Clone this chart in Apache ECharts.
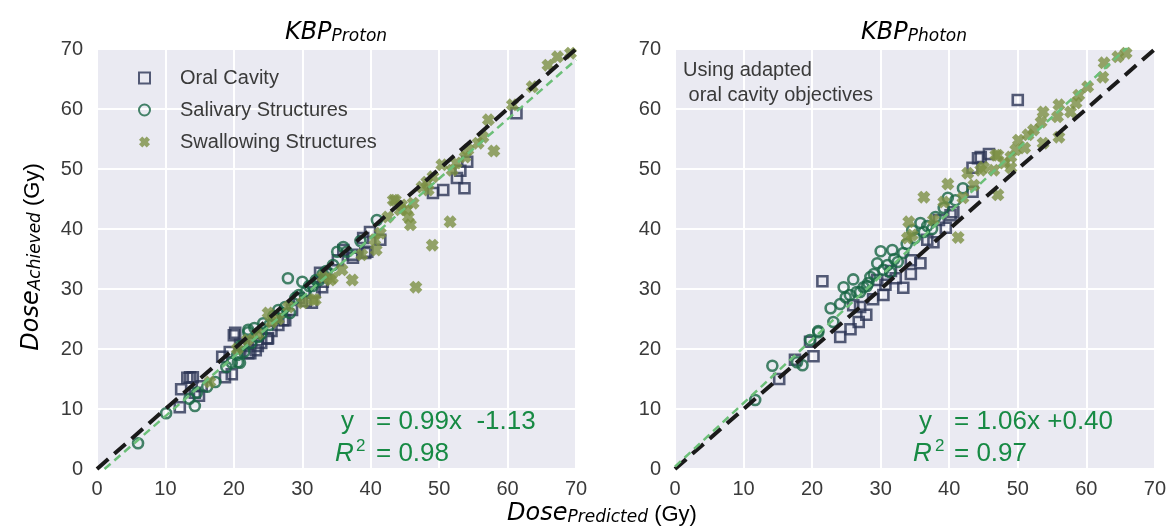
<!DOCTYPE html>
<html>
<head>
<meta charset="utf-8">
<script src="https://cdn.jsdelivr.net/npm/echarts@6.0.0/dist/echarts.min.js"></script>
<style>
html, body { margin: 0; padding: 0; background: #fff; }
#chart { width: 1169px; height: 527px; }
</style>
</head>
<body>
<div id="chart"></div>
<script>
// axis range / ticks
const tickValues = [0, 10, 20, 30, 40, 50, 60, 70]

// KBP proton panel: [predicted, achieved]
const oralProton = [
  [12.1, 10.3], [12.3, 13.3], [13.2, 15.2], [13.6, 15.3], [14.0, 15.3], [14.3, 12.7], [14.9, 12.2],
  [15.3, 13.8], [18.3, 18.7], [18.7, 15.3], [19.4, 19.5], [19.7, 15.8], [20.0, 22.3], [20.2, 22.7],
  [20.9, 20.7], [21.5, 20.5], [22.1, 19.3], [22.4, 19.3], [23.2, 19.8], [23.5, 20.5], [24.0, 21.0],
  [24.9, 21.7], [25.0, 21.8], [25.5, 23.0], [26.5, 24.0], [27.2, 24.8], [27.5, 24.8], [28.5, 26.5],
  [29.5, 28.5], [30.5, 28.0], [31.4, 27.7], [31.8, 29.5], [32.6, 32.7], [32.9, 30.3], [33.0, 31.2],
  [33.5, 32.5], [35.2, 34.8], [36.0, 36.5], [37.3, 35.7], [37.4, 35.2], [38.9, 38.5], [39.2, 36.0],
  [39.5, 36.2], [39.9, 39.5], [41.4, 38.2], [49.1, 46.0], [50.6, 46.5], [52.6, 48.5], [53.1, 49.7],
  [53.7, 46.8], [54.1, 51.2], [61.3, 59.3]
]
const salivaryProton = [
  [6.0, 4.3], [10.1, 9.3], [13.5, 11.7], [14.3, 10.5], [14.6, 12.7], [16.1, 13.7], [17.3, 14.5],
  [18.9, 17.0], [19.7, 17.7], [20.5, 19.0], [20.6, 17.8], [20.9, 17.7], [21.0, 20.5], [21.5, 19.5],
  [22.1, 22.8], [22.1, 23.2], [22.5, 21.0], [23.0, 23.5], [23.5, 22.0], [24.0, 22.5], [24.3, 24.3],
  [25.2, 24.0], [25.8, 25.5], [26.3, 25.2], [26.5, 26.5], [27.0, 26.0], [27.5, 27.0], [27.9, 31.8],
  [28.2, 26.0], [29.0, 28.5], [29.5, 29.0], [30.0, 31.2], [30.5, 29.5], [31.0, 30.5], [31.5, 30.5],
  [32.0, 31.5], [32.5, 31.5], [33.0, 32.5], [33.5, 33.0], [34.5, 34.0], [35.1, 36.2], [36.0, 37.0],
  [36.5, 36.2], [38.5, 38.0], [40.9, 41.5]
]
const swallowProton = [
  [16.5, 14.5], [20.5, 20.0], [22.0, 21.5], [23.5, 22.5], [25.0, 26.0], [25.5, 24.5], [26.5, 25.0],
  [28.0, 27.0], [30.1, 27.7], [31.6, 28.2], [31.9, 28.2], [33.0, 32.0], [34.1, 31.5], [34.4, 31.8],
  [35.8, 33.2], [37.3, 31.5], [38.7, 35.7], [40.6, 38.2], [40.8, 36.5], [41.4, 39.3], [42.5, 42.0],
  [43.3, 44.8], [43.6, 44.8], [44.3, 43.2], [44.5, 44.0], [45.3, 43.2], [45.5, 42.0], [45.8, 40.7],
  [46.2, 44.3], [46.6, 30.3], [47.5, 47.0], [48.2, 47.8], [48.4, 46.5], [49.0, 37.3], [49.1, 48.7],
  [50.4, 50.7], [51.6, 41.2], [51.9, 49.8], [52.5, 51.0], [53.8, 52.0], [54.2, 53.2], [55.7, 54.3],
  [56.4, 55.3], [57.2, 58.2], [58.0, 53.0], [60.7, 60.7], [63.6, 63.7], [65.9, 67.3], [67.3, 68.7],
  [69.2, 69.3]
]

// KBP photon panel
const oralPhoton = [
  [15.2, 15.0], [17.5, 18.2], [19.7, 21.2], [20.2, 18.8], [21.5, 31.3], [24.1, 22.0], [25.6, 23.3],
  [26.0, 27.3], [26.8, 24.5], [27.0, 27.0], [27.9, 25.7], [28.9, 28.3], [29.5, 31.5], [30.4, 29.0],
  [30.7, 30.7], [31.5, 33.0], [32.2, 31.8], [33.3, 30.2], [34.4, 32.5], [34.4, 34.8], [35.8, 34.3],
  [36.8, 38.2], [37.7, 37.8], [38.5, 41.5], [39.5, 40.2], [40.2, 42.3], [40.6, 42.8], [43.4, 46.2],
  [43.4, 50.2], [44.2, 51.8], [44.6, 52.0], [45.8, 52.5], [50.0, 61.5]
]
const salivaryPhoton = [
  [11.7, 11.5], [14.2, 17.2], [17.8, 17.8], [18.6, 17.3], [19.7, 21.5], [20.9, 22.8], [20.9, 23.0],
  [22.7, 26.8], [23.1, 24.5], [24.1, 27.5], [24.6, 30.3], [24.9, 28.6], [25.5, 29.0], [26.0, 31.6],
  [26.5, 29.5], [27.0, 29.5], [27.5, 30.3], [28.0, 30.5], [28.2, 31.0], [28.5, 32.0], [29.0, 32.5],
  [29.5, 34.3], [30.0, 36.3], [30.4, 33.2], [31.0, 34.0], [31.4, 32.8], [31.7, 36.5], [32.0, 35.0],
  [32.5, 34.5], [33.3, 36.0], [33.8, 37.5], [34.6, 39.8], [35.0, 38.5], [35.8, 41.0], [36.3, 39.5],
  [36.8, 40.5], [37.5, 40.0], [38.0, 42.0], [39.2, 43.5], [39.8, 45.2], [40.9, 44.8], [42.0, 46.8]
]
const swallowPhoton = [
  [33.9, 38.5], [34.1, 41.2], [34.6, 39.0], [36.3, 45.3], [37.7, 41.5], [39.2, 44.5], [39.8, 47.5],
  [41.3, 38.6], [42.0, 45.2], [42.7, 49.3], [43.6, 47.3], [44.6, 49.8], [45.0, 50.3], [46.5, 49.8],
  [46.8, 52.3], [47.1, 45.7], [47.1, 52.3], [48.0, 51.0], [49.0, 50.2], [49.0, 52.0], [49.7, 53.2],
  [50.1, 54.8], [51.0, 53.5], [51.5, 55.7], [52.3, 56.5], [53.4, 57.8], [53.7, 54.3], [53.7, 59.5],
  [55.8, 58.7], [56.0, 55.3], [56.0, 60.7], [57.7, 59.5], [58.5, 61.0], [58.9, 62.3], [60.2, 63.7],
  [62.4, 65.3], [62.6, 67.7], [64.6, 68.7], [65.8, 69.3]
]

// reference and fitted lines (end points)
const identityLine = [[0, 0], [70, 70]]
const fitProton = [[1.1, 0], [70, 68.2]]
const fitPhoton = [[0, 0.4], [66.1, 70.4]]

const C_ORAL = '#2c3555'
const C_SALIV = '#186543'
const C_SWAL = '#7c9044'
const C_FIT = '#6cbf78'
const C_TXT = '#3a3a3a'
const C_ANN = '#178a44'
const X_MARK = 'path://M3,0L5,2L7,0L10,3L8,5L10,7L7,10L5,8L3,10L0,7L2,5L0,3Z'

const chart = echarts.init(document.getElementById('chart'))

const axisBase = {
  type: 'value',
  min: tickValues[0],
  max: tickValues[tickValues.length - 1],
  interval: 10,
  axisLine: { show: false },
  axisTick: { show: false },
  splitLine: { show: true, lineStyle: { color: '#ffffff', width: 2 } },
  axisLabel: { fontSize: 20, color: C_TXT, fontFamily: 'Liberation Sans' }
}

const scatterSeries = (name, data, idx) => {
  let style
  if (name === 'Oral Cavity') {
    style = { symbol: 'rect', symbolSize: 10, itemStyle: { color: 'rgba(0,0,0,0)', borderColor: C_ORAL, borderWidth: 2.6 } }
  } else if (name === 'Salivary Structures') {
    style = { symbol: 'circle', symbolSize: 10, itemStyle: { color: 'rgba(0,0,0,0)', borderColor: C_SALIV, borderWidth: 2.6 } }
  } else {
    style = { symbol: X_MARK, symbolSize: 13, itemStyle: { color: C_SWAL } }
  }
  return Object.assign({
    name: name,
    type: 'scatter',
    xAxisIndex: idx,
    yAxisIndex: idx,
    data: data,
    emphasis: { disabled: true },
    animation: false
  }, style)
}

const lineSeries = (data, idx, color, width, dash, z) => ({
  type: 'line',
  xAxisIndex: idx,
  yAxisIndex: idx,
  data: data,
  showSymbol: false,
  symbol: 'none',
  lineStyle: { color: color, width: width, type: dash },
  z: z,
  animation: false,
  silent: true
})

const mathRich = {
  a: { fontFamily: 'DejaVu Sans', fontStyle: 'italic', fontSize: 24, color: C_TXT, lineHeight: 30, verticalAlign: 'bottom' },
  b: { fontFamily: 'DejaVu Sans', fontStyle: 'italic', fontSize: 17, color: C_TXT, lineHeight: 13, verticalAlign: 'bottom' },
  c: { fontFamily: 'Liberation Sans', fontSize: 22, color: C_TXT, lineHeight: 28, verticalAlign: 'bottom' }
}

const annText = (x, y, text, extra) => ({
  type: 'text',
  x: x,
  y: y,
  z: 100,
  style: Object.assign({
    text: text,
    fontSize: 26,
    fontFamily: 'Liberation Sans',
    fill: C_ANN,
    textAlign: 'left',
    textVerticalAlign: 'middle'
  }, extra || {})
})

chart.setOption({
  backgroundColor: '#ffffff',
  grid: [
    { left: 97, top: 49, width: 479, height: 420, show: true, backgroundColor: '#eaeaf2', borderWidth: 0 },
    { left: 675, top: 49, width: 480, height: 420, show: true, backgroundColor: '#eaeaf2', borderWidth: 0 }
  ],
  xAxis: [
    Object.assign({}, axisBase, { gridIndex: 0, axisLabel: Object.assign({}, axisBase.axisLabel, { margin: 10 }) }),
    Object.assign({}, axisBase, { gridIndex: 1, axisLabel: Object.assign({}, axisBase.axisLabel, { margin: 10 }) })
  ],
  yAxis: [
    Object.assign({}, axisBase, { gridIndex: 0, axisLabel: Object.assign({}, axisBase.axisLabel, { margin: 14 }) }),
    Object.assign({}, axisBase, { gridIndex: 1, axisLabel: Object.assign({}, axisBase.axisLabel, { margin: 14 }) })
  ],
  legend: {
    orient: 'vertical',
    left: 133,
    top: 62,
    itemWidth: 11,
    itemHeight: 11,
    itemGap: 10,
    selectedMode: false,
    data: ['Oral Cavity', 'Salivary Structures', 'Swallowing Structures'],
    textStyle: { fontSize: 20, color: C_TXT, fontFamily: 'Liberation Sans', lineHeight: 22, padding: [0, 0, 0, 25] }
  },
  series: [
    scatterSeries('Oral Cavity', oralProton, 0),
    scatterSeries('Salivary Structures', salivaryProton, 0),
    scatterSeries('Swallowing Structures', swallowProton, 0),
    lineSeries(identityLine, 0, '#1a1a1a', 4, [15, 8], 5),
    lineSeries(fitProton, 0, C_FIT, 2.5, [8, 5], 6),
    scatterSeries('Oral Cavity', oralPhoton, 1),
    scatterSeries('Salivary Structures', salivaryPhoton, 1),
    scatterSeries('Swallowing Structures', swallowPhoton, 1),
    lineSeries(identityLine, 1, '#1a1a1a', 4, [15, 8], 5),
    lineSeries(fitPhoton, 1, C_FIT, 2.5, [8, 5], 6)
  ],
  graphic: [
    // panel titles
    { type: 'text', x: 336, y: 30, z: 100, style: { text: '{a|KBP}{b|Proton}', rich: mathRich, textAlign: 'center', textVerticalAlign: 'middle' } },
    { type: 'text', x: 914, y: 30, z: 100, style: { text: '{a|KBP}{b|Photon}', rich: mathRich, textAlign: 'center', textVerticalAlign: 'middle' } },
    // axis names
    { type: 'text', x: 602, y: 511, z: 100, style: { text: '{a|Dose}{b|Predicted}{c| (Gy)}', rich: mathRich, textAlign: 'center', textVerticalAlign: 'middle' } },
    { type: 'text', x: 29, y: 257, z: 100, rotation: Math.PI / 2, style: { text: '{a|Dose}{b|Achieved}{c| (Gy)}', rich: mathRich, textAlign: 'center', textVerticalAlign: 'middle' } },
    // note in photon panel
    { type: 'text', x: 683, y: 70, z: 100, style: { text: 'Using adapted', fontSize: 20, fontFamily: 'Liberation Sans', fill: C_TXT, textVerticalAlign: 'middle' } },
    { type: 'text', x: 683, y: 95, z: 100, style: { text: ' oral cavity objectives', fontSize: 20, fontFamily: 'Liberation Sans', fill: C_TXT, textVerticalAlign: 'middle' } },
    // fit annotations proton
    annText(341, 422, 'y'),
    annText(376, 422, '= 0.99x  -1.13'),
    annText(335, 454, 'R', { fontStyle: 'italic' }),
    annText(356, 446, '2', { fontSize: 17 }),
    annText(376, 454, '= 0.98'),
    // fit annotations photon
    annText(919, 422, 'y'),
    annText(954, 422, '= 1.06x +0.40'),
    annText(913, 454, 'R', { fontStyle: 'italic' }),
    annText(935, 446, '2', { fontSize: 17 }),
    annText(954, 454, '= 0.97')
  ]
})
</script>
</body>
</html>
